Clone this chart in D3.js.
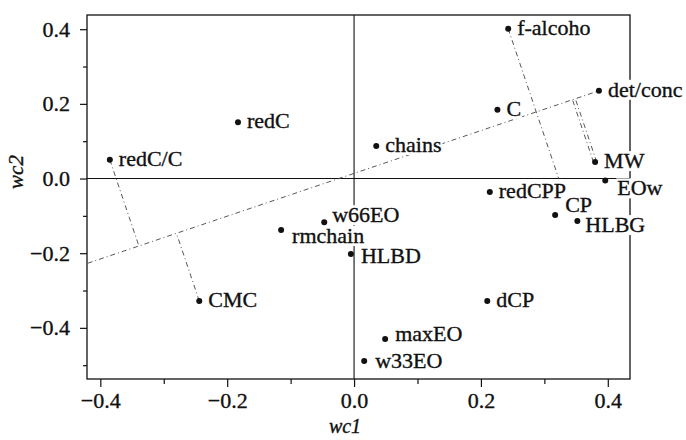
<!DOCTYPE html>
<html>
<head>
<meta charset="utf-8">
<script src="https://cdn.jsdelivr.net/npm/d3@7"></script>
<style>
  html, body { margin: 0; padding: 0; background: #fff; }
  svg { display: block; }
  text { font-family: "Liberation Serif", "Times New Roman", serif; fill: #111; stroke: #111; stroke-width: 0.35px; }
</style>
</head>
<body>
<svg id="chart" width="686" height="440"></svg>
<script>
// PLS weight loadings, first two components
const names = ["f-alcoho", "det/conc", "C", "chains", "redC", "redC/C", "MW", "EOw",
               "redCPP", "CP", "HLBG", "w66EO", "rmchain", "HLBD", "CMC", "dCP", "maxEO", "w33EO"];
const wc1 = [0.243, 0.386, 0.226, 0.035, -0.183, -0.385, 0.380, 0.396,
             0.214, 0.317, 0.352, -0.047, -0.115, -0.005, -0.244, 0.210, 0.049, 0.016];
const wc2 = [0.401, 0.235, 0.184, 0.087, 0.151, 0.050, 0.044, -0.005,
             -0.036, -0.098, -0.114, -0.117, -0.138, -0.202, -0.328, -0.328, -0.430, -0.489];

// direction line drawn toward det/conc, and variables projected onto it
const dirLineStart = [-0.42, -0.227];
const dirLineEnd = "det/conc";
const projected = ["redC/C", "CMC", "MW"];
const extendedToAxis = ["f-alcoho"];

const majorTicks = [-0.4, -0.2, 0.0, 0.2, 0.4];
const minorTicksX = [-0.3, -0.1, 0.1, 0.3];
const minorTicksY = [0.3, 0.1, -0.1, -0.3, -0.5];

// label placement relative to each point (pixels)
const nudge = {
  "rmchain": [11, 13], "CP": [10, -3], "EOw": [12, 15], "HLBG": [8, 11],
  "w66EO": [8, 0], "maxEO": [10, 2], "HLBD": [10, 9], "w33EO": [11, 7]
};

const svg = d3.select("#chart");
const x = d3.scaleLinear().domain([-0.421, 0.435]).range([87, 630]);
const y = d3.scaleLinear().domain([-0.537, 0.438]).range([379, 15]);
const fmt = d3.format(".1f");

const pts = names.map((n, i) => ({ name: n, px: x(wc1[i]), py: y(wc2[i]) }));
const byName = Object.fromEntries(pts.map(p => [p.name, p]));

// frame
svg.append("rect")
  .attr("x", x.range()[0]).attr("y", y.range()[1])
  .attr("width", x.range()[1] - x.range()[0])
  .attr("height", y.range()[0] - y.range()[1])
  .attr("fill", "none").attr("stroke", "#111").attr("stroke-width", 1.3);

// axes: labelled major ticks and short minor ticks
function styleAxis(g) {
  g.select(".domain").remove();
  g.selectAll(".tick line").attr("stroke", "#111").attr("stroke-width", 1.2);
  g.selectAll(".tick text").style("font-size", "22px").attr("fill", "#111");
}
svg.append("g").attr("transform", `translate(0,${y.range()[0]})`)
  .call(d3.axisBottom(x).tickValues(majorTicks).tickFormat(fmt).tickSize(8).tickPadding(5))
  .call(styleAxis);
svg.append("g").attr("transform", `translate(0,${y.range()[0]})`)
  .call(d3.axisBottom(x).tickValues(minorTicksX).tickFormat("").tickSize(5))
  .call(styleAxis);
svg.append("g").attr("transform", `translate(${x.range()[0]},0)`)
  .call(d3.axisLeft(y).tickValues(majorTicks).tickFormat(fmt).tickSize(7).tickPadding(10))
  .call(styleAxis);
svg.append("g").attr("transform", `translate(${x.range()[0]},0)`)
  .call(d3.axisLeft(y).tickValues(minorTicksY).tickFormat("").tickSize(4))
  .call(styleAxis);

// axis titles
svg.append("text").attr("x", 345).attr("y", 433)
  .attr("text-anchor", "middle").style("font-size", "20px").style("font-style", "italic")
  .text("wc1");
svg.append("text").attr("transform", "translate(23,172) rotate(-90)")
  .attr("text-anchor", "middle").style("font-size", "21px").style("font-style", "italic")
  .text("wc2");

// zero lines
svg.append("line").attr("x1", x.range()[0]).attr("x2", x.range()[1])
  .attr("y1", y(0)).attr("y2", y(0)).attr("stroke", "#111").attr("stroke-width", 1.1);
svg.append("line").attr("x1", x(0)).attr("x2", x(0))
  .attr("y1", y.range()[1]).attr("y2", y.range()[0]).attr("stroke", "#111").attr("stroke-width", 1.1);

// direction line and perpendicular projections (pixel space)
const dash = "5,3,1,3";
const A = [x(dirLineStart[0]), y(dirLineStart[1])];
const B = [byName[dirLineEnd].px, byName[dirLineEnd].py];
const ux = (B[0] - A[0]), uy = (B[1] - A[1]);
const ul = Math.hypot(ux, uy);
const u = [ux / ul, uy / ul];
function foot(p) {
  const t = (p[0] - A[0]) * u[0] + (p[1] - A[1]) * u[1];
  return [A[0] + t * u[0], A[1] + t * u[1]];
}
const dashed = svg.append("g").attr("fill", "none").attr("stroke", "#444")
  .attr("stroke-width", 0.9).attr("stroke-dasharray", dash);
dashed.append("line").attr("x1", A[0]).attr("y1", A[1]).attr("x2", B[0]).attr("y2", B[1]);

projected.forEach(n => {
  const p = [byName[n].px, byName[n].py];
  const f = foot(p);
  const offs = n === "MW" ? [-1.6, 1.6] : [0];
  offs.forEach(o => {
    dashed.append("line")
      .attr("x1", p[0] + o).attr("y1", p[1]).attr("x2", f[0] + o).attr("y2", f[1]);
  });
});
extendedToAxis.forEach(n => {
  const p = [byName[n].px, byName[n].py];
  // perpendicular to the direction line, continued down to wc2 = 0
  const n2 = [-u[1], u[0]];
  const dir = n2[1] > 0 ? n2 : [-n2[0], -n2[1]];
  const t = (y(0) - p[1]) / dir[1];
  dashed.append("line").attr("x1", p[0]).attr("y1", p[1])
    .attr("x2", p[0] + t * dir[0]).attr("y2", y(0));
});

// labels with white backing, then the points
const labels = svg.append("g");
pts.forEach(p => {
  const d = nudge[p.name] || [9, 6];
  const g = labels.append("g");
  const t = g.append("text").attr("x", p.px + d[0]).attr("y", p.py + d[1])
    .style("font-size", "22px").text(p.name);
  const bb = t.node().getBBox();
  g.insert("rect", "text").attr("x", bb.x - 1).attr("y", bb.y + 3)
    .attr("width", bb.width + 2).attr("height", bb.height - 5).attr("fill", "#fff");
});
svg.append("g").selectAll("circle").data(pts).join("circle")
  .attr("cx", d => d.px).attr("cy", d => d.py).attr("r", 3).attr("fill", "#111");
</script>
</body>
</html>
